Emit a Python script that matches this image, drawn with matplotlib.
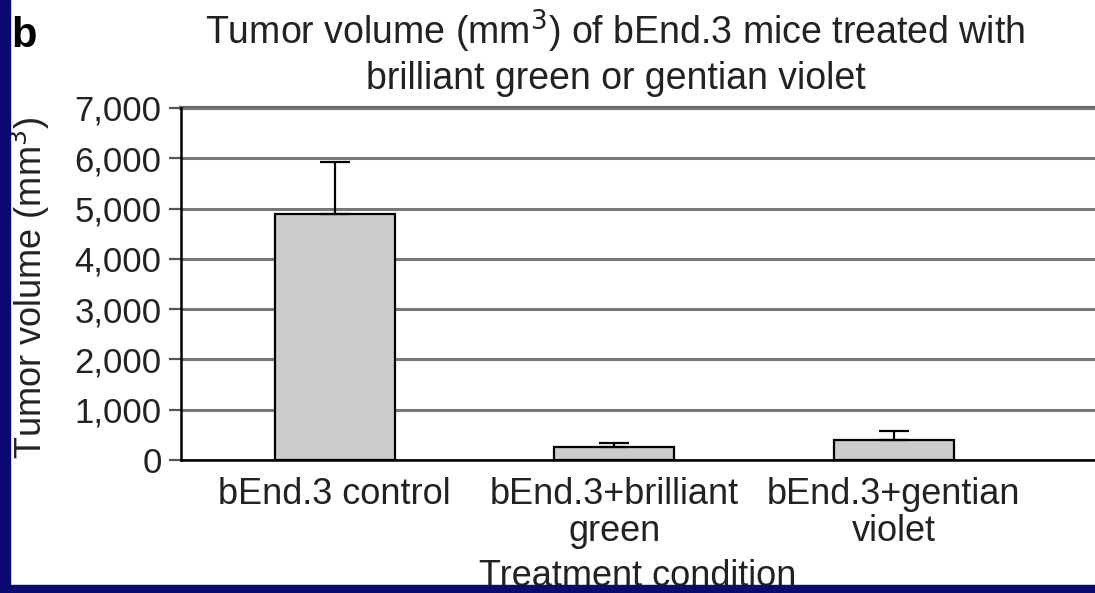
import numpy as np
import matplotlib.pyplot as plt
from matplotlib.patches import Rectangle

plt.rcParams['font.family'] = ['Liberation Sans', 'DejaVu Sans']

# данные
conditions = ['bEnd.3 control', 'bEnd.3+brilliant\ngreen', 'bEnd.3+gentian\nviolet']
volumes = [4900, 260, 400]
errors = [1030, 80, 180]
yticks = [0, 1000, 2000, 3000, 4000, 5000, 6000, 7000]

fs = 26
txt = '#222222'

fig = plt.figure(figsize=(10.95, 5.93), dpi=100)
ax = fig.add_axes([0.1653, 0.2243, 0.8347, 0.5936])

x = np.arange(len(conditions))
ax.bar(x, volumes, width=0.43, color='#cccccc', edgecolor='black', linewidth=1.6, zorder=3)
ax.errorbar(x, volumes, yerr=[np.zeros(len(errors)), errors], fmt='none',
            ecolor='black', elinewidth=1.6, capsize=11, capthick=1.6, zorder=4)

ax.set_xlim(-0.55, 2.72)
ax.set_ylim(0, 7000)
ax.set_yticks(yticks)
ax.set_yticklabels([f'{v:,}' for v in yticks], fontsize=fs - 1, color=txt)
ax.set_xticks(x)
ax.set_xticklabels(conditions, fontsize=fs, color=txt, linespacing=1.08)
ax.tick_params(axis='y', length=9, width=1.6, color='#555555', pad=5)
ax.tick_params(axis='x', length=0, pad=12)

ax.grid(axis='y', color='#777777', linewidth=2.2, zorder=0)
for s in ['top', 'right']:
    ax.spines[s].set_visible(False)
ax.spines['left'].set_linewidth(1.8)
ax.spines['bottom'].set_linewidth(1.8)
ax.axhline(7000, color='#666666', linewidth=3, zorder=1, clip_on=False)

ax.set_ylabel('Tumor volume (mm$^3$)', fontsize=fs, color=txt)
ax.yaxis.set_label_coords(-0.141, 0.49)
fig.text(0.582, 0.028, 'Treatment condition', ha='center', va='center', fontsize=fs, color=txt)
fig.text(0.562, 0.912, 'Tumor volume (mm$^3$) of bEnd.3 mice treated with\nbrilliant green or gentian violet',
         ha='center', va='center', fontsize=fs + 1, color=txt, linespacing=1.2)
fig.text(0.010, 0.94, 'b', fontsize=30, fontweight='bold', color='black', va='center')

# синяя рамка слева и снизу
fig.patches.append(Rectangle((0, 0), 0.0095, 1, transform=fig.transFigure, color='#0a0a70', zorder=10))
fig.patches.append(Rectangle((0, 0), 1, 0.013, transform=fig.transFigure, color='#0a0a70', zorder=10))

fig.savefig('out.png', dpi=100)
